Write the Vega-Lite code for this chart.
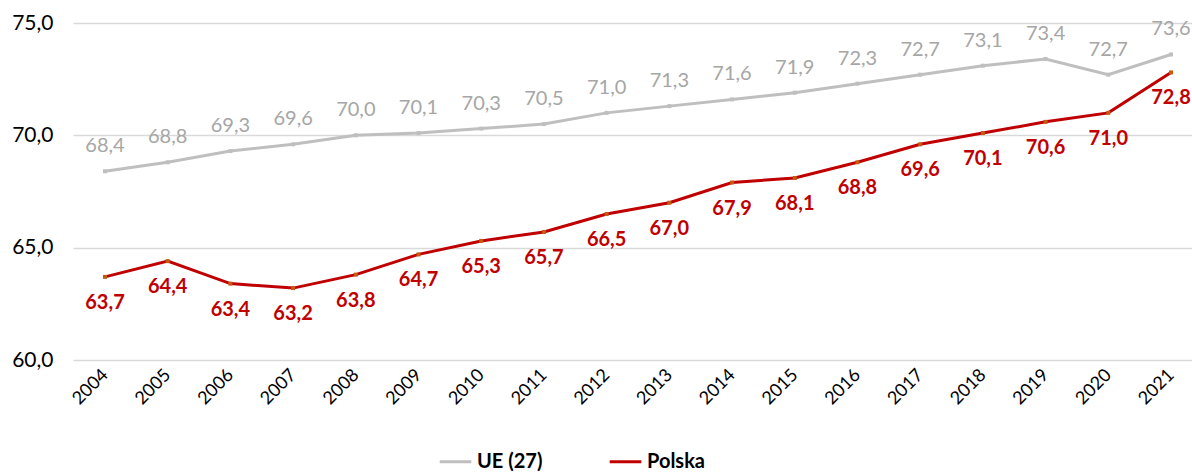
{
  "$schema": "https://vega.github.io/schema/vega-lite/v6.json",
  "width": 1119,
  "height": 337,
  "autosize": {"type": "none"},
  "padding": {"left": 73, "top": 23, "right": 0, "bottom": 115},
  "background": "white",
  "config": {
    "locale": {"number": {"decimal": ",", "thousands": " ", "grouping": [3], "currency": ["", " zł"]}},
    "view": {"stroke": null},
    "font": "Lato"
  },
  "data": {
    "values": [
      {"year": 2004, "series": "UE (27)", "value": 68.4},
      {"year": 2005, "series": "UE (27)", "value": 68.8},
      {"year": 2006, "series": "UE (27)", "value": 69.3},
      {"year": 2007, "series": "UE (27)", "value": 69.6},
      {"year": 2008, "series": "UE (27)", "value": 70.0},
      {"year": 2009, "series": "UE (27)", "value": 70.1},
      {"year": 2010, "series": "UE (27)", "value": 70.3},
      {"year": 2011, "series": "UE (27)", "value": 70.5},
      {"year": 2012, "series": "UE (27)", "value": 71.0},
      {"year": 2013, "series": "UE (27)", "value": 71.3},
      {"year": 2014, "series": "UE (27)", "value": 71.6},
      {"year": 2015, "series": "UE (27)", "value": 71.9},
      {"year": 2016, "series": "UE (27)", "value": 72.3},
      {"year": 2017, "series": "UE (27)", "value": 72.7},
      {"year": 2018, "series": "UE (27)", "value": 73.1},
      {"year": 2019, "series": "UE (27)", "value": 73.4},
      {"year": 2020, "series": "UE (27)", "value": 72.7},
      {"year": 2021, "series": "UE (27)", "value": 73.6},
      {"year": 2004, "series": "Polska", "value": 63.7},
      {"year": 2005, "series": "Polska", "value": 64.4},
      {"year": 2006, "series": "Polska", "value": 63.4},
      {"year": 2007, "series": "Polska", "value": 63.2},
      {"year": 2008, "series": "Polska", "value": 63.8},
      {"year": 2009, "series": "Polska", "value": 64.7},
      {"year": 2010, "series": "Polska", "value": 65.3},
      {"year": 2011, "series": "Polska", "value": 65.7},
      {"year": 2012, "series": "Polska", "value": 66.5},
      {"year": 2013, "series": "Polska", "value": 67.0},
      {"year": 2014, "series": "Polska", "value": 67.9},
      {"year": 2015, "series": "Polska", "value": 68.1},
      {"year": 2016, "series": "Polska", "value": 68.8},
      {"year": 2017, "series": "Polska", "value": 69.6},
      {"year": 2018, "series": "Polska", "value": 70.1},
      {"year": 2019, "series": "Polska", "value": 70.6},
      {"year": 2020, "series": "Polska", "value": 71.0},
      {"year": 2021, "series": "Polska", "value": 72.8}
    ]
  },
  "encoding": {
    "x": {
      "field": "year",
      "type": "quantitative",
      "scale": {"domain": [2003.49, 2021.335], "nice": false, "zero": false},
      "axis": {
        "title": null,
        "values": [2004,2005,2006,2007,2008,2009,2010,2011,2012,2013,2014,2015,2016,2017,2018,2019,2020,2021],
        "format": "d",
        "labelAngle": -45,
        "labelAlign": "right",
        "labelBaseline": "middle",
        "labelFontSize": 18,
        "labelColor": "#000000",
        "labelFont": "Lato",
        "labelPadding": 12,
        "grid": false,
        "domain": false,
        "ticks": false,
        "labelOverlap": false
      }
    },
    "y": {
      "field": "value",
      "type": "quantitative",
      "scale": {"domain": [60, 75], "nice": false, "zero": false},
      "axis": {
        "title": null,
        "values": [60, 65, 70, 75],
        "format": ".1f",
        "labelFontSize": 21,
        "labelColor": "#000000",
        "labelFont": "Lato",
        "labelPadding": 20,
        "grid": true,
        "gridColor": "#d9d9d9",
        "gridWidth": 1.3,
        "domain": false,
        "ticks": false
      }
    }
  },
  "layer": [
    {
      "mark": {"type": "line", "strokeWidth": 3},
      "encoding": {
        "color": {
          "field": "series",
          "type": "nominal",
          "scale": {"domain": ["UE (27)", "Polska"], "range": ["#bfbfbf", "#c00000"]},
          "legend": {
            "title": null,
            "orient": "none",
            "direction": "horizontal",
            "legendX": 365,
            "legendY": 421,
            "symbolType": "stroke",
            "symbolStrokeWidth": 3,
            "symbolSize": 1000,
            "labelFontSize": 20,
            "labelFontWeight": "bold",
            "labelColor": "#000000",
            "labelFont": "Lato",
            "labelOffset": 4,
            "columnPadding": 60
          }
        }
      }
    },
    {
      "mark": {"type": "point", "shape": "square", "filled": true, "size": 16, "opacity": 1},
      "encoding": {
        "color": {
          "field": "series",
          "type": "nominal",
          "scale": {"domain": ["UE (27)", "Polska"], "range": ["#bfbfbf", "#c55a11"]},
          "legend": null
        }
      }
    },
    {
      "transform": [{"filter": "datum.series === 'UE (27)'"}],
      "mark": {"type": "text", "dy": -25, "fontSize": 20, "color": "#a6a6a6", "font": "Lato"},
      "encoding": {"text": {"field": "value", "type": "quantitative", "format": ".1f"}}
    },
    {
      "transform": [{"filter": "datum.series === 'Polska'"}],
      "mark": {"type": "text", "dy": 26, "fontSize": 20, "fontWeight": "bold", "color": "#c00000", "font": "Lato"},
      "encoding": {"text": {"field": "value", "type": "quantitative", "format": ".1f"}}
    }
  ],
  "resolve": {"scale": {"color": "independent"}}
}
